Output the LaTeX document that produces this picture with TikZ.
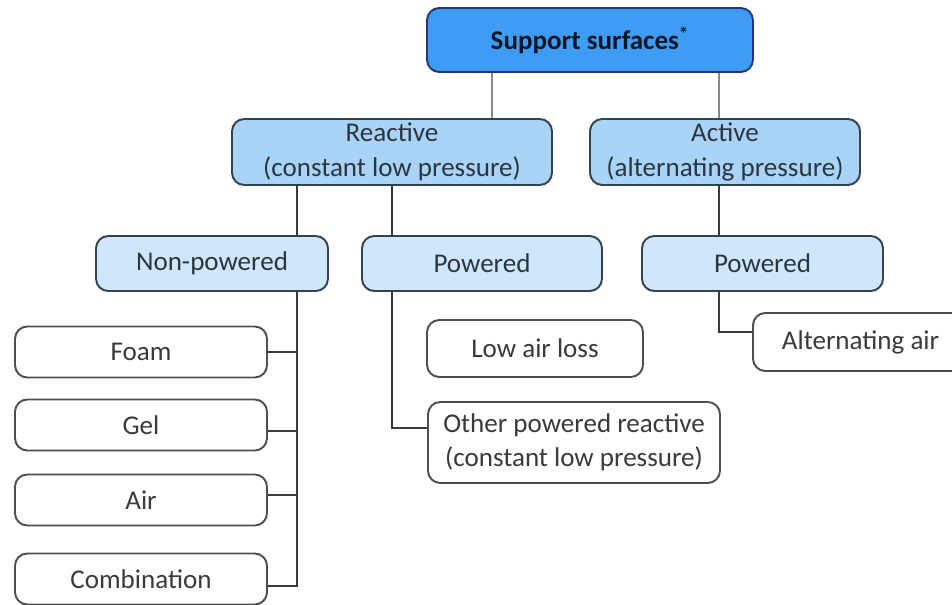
\documentclass[tikz,border=0pt]{standalone}
\usepackage{fontspec}
\setmainfont{Carlito}
\usetikzlibrary{positioning}
\definecolor{ctop}{HTML}{3E9CF4}
\definecolor{cmid}{HTML}{A9D4F8}
\definecolor{clow}{HTML}{CFE7FB}
\definecolor{cedge}{HTML}{34424F}
\definecolor{ctext}{HTML}{2B3642}
\definecolor{cline}{HTML}{3A3A3A}
\definecolor{cgrey}{HTML}{8A8A8A}
\tikzset{
  every picture/.style={font=\fontsize{15.4pt}{19.6pt}\selectfont, line width=1.1pt},
  box/.style={draw=cedge, fill=#1, rounded corners=7pt, align=center, inner sep=2pt, text=ctext},
  box/.default=white,
  leaf/.style={box=white, draw=cline!90, text=cline},
  link/.style={draw=cline, line width=1.1pt},
}
\begin{document}
\begin{tikzpicture}[x=1cm, y=1cm]
  \useasboundingbox (0,0) rectangle (19.04,-12.1);
  % top level
  \node[box=ctop, draw=cedge!80!blue, minimum width=6.52cm, minimum height=1.28cm, font=\fontsize{15.4pt}{19.6pt}\selectfont\bfseries, text=ctop!15!black] (top) at (11.8,-0.8) {Support surfaces\textsuperscript{*}};
  \node[box=cmid, minimum width=6.4cm, minimum height=1.32cm] (reactive) at (7.84,-3.04) {Reactive\\(constant low pressure)};
  \node[box=cmid, minimum width=5.4cm, minimum height=1.32cm] (active) at (14.5,-3.04) {Active\\(alternating pressure)};
  % second level
  \node[box=clow, minimum width=4.64cm, minimum height=1.1cm] (nonpow) at (4.24,-5.27) {Non-powered};
  \node[box=clow, minimum width=4.8cm, minimum height=1.1cm] (powR) at (9.64,-5.27) {Powered};
  \node[box=clow, minimum width=4.82cm, minimum height=1.1cm] (powA) at (15.25,-5.27) {Powered};
  % leaves
  \node[leaf, minimum width=5.04cm, minimum height=1.02cm] (foam) at (2.82,-7.04) {Foam};
  \node[leaf, minimum width=5.04cm, minimum height=1.02cm] (gel) at (2.82,-8.5) {Gel};
  \node[leaf, minimum width=5.04cm, minimum height=1.02cm] (air) at (2.82,-10.0) {Air};
  \node[leaf, minimum width=5.04cm, minimum height=1.02cm] (combo) at (2.82,-11.58) {Combination};
  \node[leaf, minimum width=4.32cm, minimum height=1.14cm] (lowair) at (10.7,-6.97) {Low air loss};
  \node[leaf, minimum width=5.84cm, minimum height=1.62cm] (other) at (11.48,-8.85) {Other powered reactive\\(constant low pressure)};
  \node[leaf, minimum width=4.3cm, minimum height=1.16cm] (altair) at (17.21,-6.84) {Alternating air};

  \draw[link, draw=cgrey] (top.south -| 9.84,0) -- (reactive.north -| 9.84,0);
  \draw[link, draw=cgrey] (top.south -| 14.38,0) -- (active.north -| 14.38,0);
  \draw[link] (reactive.south -| 5.94,0) -- (nonpow.north -| 5.94,0);
  \draw[link] (reactive.south) -- (reactive.south |- powR.north);
  \draw[link] (active.south -| 14.38,0) -- (powA.north -| 14.38,0);
  \draw[link] (nonpow.south -| 5.94,0) |- ([yshift=-0.14cm]combo.east);
  \foreach \n/\dy in {foam/0, gel/-0.12, air/0.1}
    \draw[link] ([yshift=\dy cm]\n.east) -- ([yshift=\dy cm]\n.east -| 5.94,0);
  \draw[link] (reactive.south |- powR.south) |- ([yshift=0.29cm]other.west);
  \draw[link] (powA.south -| 14.38,0) |- ([yshift=0.2cm]altair.west);
\end{tikzpicture}
\end{document}
